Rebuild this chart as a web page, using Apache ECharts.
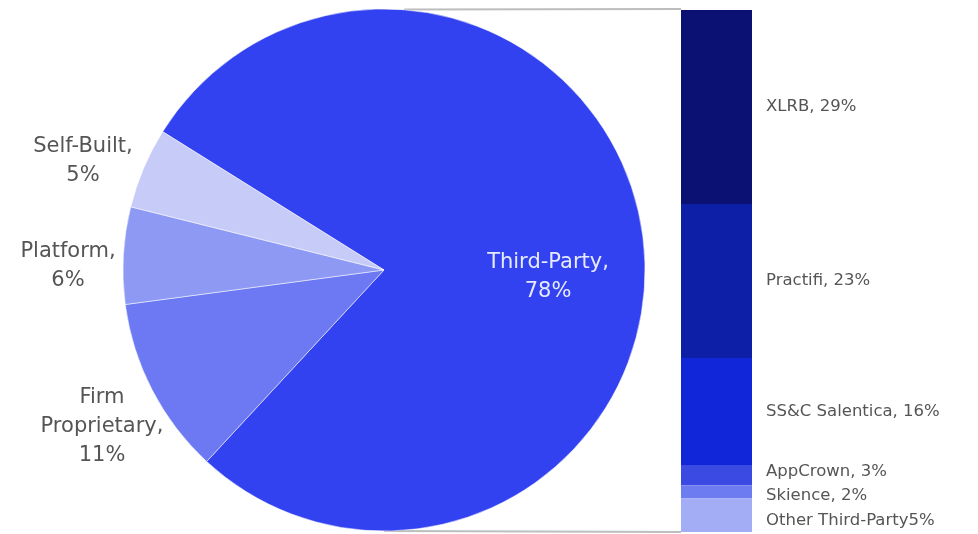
<!DOCTYPE html>
<html><head><meta charset="utf-8">
<script src="https://cdn.jsdelivr.net/npm/echarts@6/dist/echarts.min.js"></script>
<style>html,body{margin:0;padding:0;background:#fff}#c{width:978px;height:534px}</style>
</head><body><div id="c"></div>
<script>
const pieNames = ['Third-Party', 'Firm Proprietary', 'Platform', 'Self-Built'];
const pieValues = [78, 11, 6, 5];
const barNames = ['XLRB', 'Practifi', 'SS&C Salentica', 'AppCrown', 'Skience', 'Other Third-Party'];
const barValues = [29, 23, 16, 3, 2, 5];
const barLabels = ['XLRB, 29%', 'Practifi, 23%', 'SS&C Salentica, 16%', 'AppCrown, 3%', 'Skience, 2%', 'Other Third-Party5%'];

const pieColors = ['#3242F0', '#6C79F3', '#8E99F4', '#C6CBF8'];
const barColors = ['#0A1172', '#0D1FA6', '#1226D9', '#3B4AE2', '#6E7CF1', '#A3ADF6'];
const barLabelShift = [0, 0, 0, -3, 4, 5];
const FONT = 'DejaVu Sans';
const cx = 384, cy = 270, R = 261;
const barLeft = 681, barW = 71, barTop = 10, barBottom = 532;
const labelPos = [[548, 277], [102, 427], [68, 266], [83, 161]];

const chart = echarts.init(document.getElementById('c'));
const barSeries = barNames.map((n, i) => ({
  type: 'bar', name: n, stack: 'tp', barWidth: '100%',
  xAxisIndex: 0, yAxisIndex: 0,
  data: [barValues[i]],
  itemStyle: { color: barColors[i] },
  label: { show: true, position: 'right', distance: 14, offset: [0, barLabelShift[i]], formatter: barLabels[i],
    color: '#555', fontSize: 16.5, fontFamily: FONT, overflow: 'none' },
  emphasis: { disabled: true }
}));

chart.setOption({
  animation: false,
  grid: { left: barLeft, width: barW, top: barTop, height: barBottom - barTop },
  xAxis: { type: 'category', data: ['Third-Party'], show: false },
  yAxis: { type: 'value', min: 0, max: 78, inverse: true, show: false },
  graphic: [
    { type: 'line', shape: { x1: cx + 20, y1: cy - R + 0.5, x2: barLeft, y2: barTop - 1 },
      style: { stroke: '#bdbdbd', lineWidth: 2 }, z: -1 },
    { type: 'line', shape: { x1: cx, y1: cy + R, x2: barLeft, y2: barBottom },
      style: { stroke: '#bdbdbd', lineWidth: 2 }, z: -1 }
  ],
  series: [{
    type: 'pie', center: [cx, cy], radius: R, startAngle: 148, clockwise: true,
    data: pieNames.map((n, i) => ({ name: n, value: pieValues[i], itemStyle: { color: pieColors[i] },
      label: i === 0 ? { position: 'inside', color: '#E6EAFF' } : { position: 'outside', color: '#555' } })),
    itemStyle: { borderColor: 'rgba(255,255,255,0.5)', borderWidth: 1 },
    label: { show: true, formatter: p => p.dataIndex === 1 ? 'Firm\nProprietary,\n' + p.value + '%' : p.name + ',\n' + p.value + '%',
      fontSize: 21, lineHeight: 29, fontFamily: FONT, align: 'center', overflow: 'none', width: 300 },
    labelLine: { show: false },
    labelLayout: p => ({ x: labelPos[p.dataIndex][0], y: labelPos[p.dataIndex][1], align: 'center', verticalAlign: 'middle' }),
    emphasis: { disabled: true }
  }].concat(barSeries)
});
</script></body></html>
